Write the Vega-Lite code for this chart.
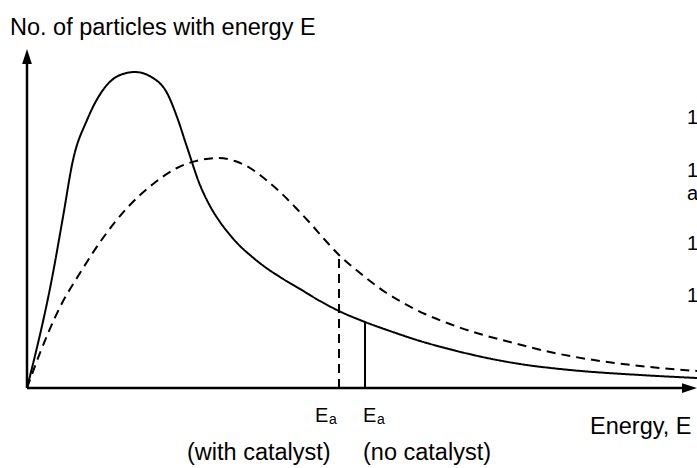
{
  "$schema": "https://vega.github.io/schema/vega-lite/v6.json",
  "width": 697,
  "height": 468,
  "autosize": "none",
  "padding": 0,
  "background": "white",
  "config": {"view": {"stroke": null}, "font": "Liberation Sans"},
  "datasets": {
    "curves": [
      {"energy": 0, "count": 0, "series": "solid"},
      {"energy": 3.88, "count": 34.02, "series": "solid"},
      {"energy": 5.37, "count": 50.59, "series": "solid"},
      {"energy": 6.87, "count": 67.46, "series": "solid"},
      {"energy": 8.96, "count": 79.29, "series": "solid"},
      {"energy": 11.34, "count": 88.17, "series": "solid"},
      {"energy": 13.88, "count": 92.6, "series": "solid"},
      {"energy": 16.12, "count": 93.49, "series": "solid"},
      {"energy": 18.81, "count": 91.72, "series": "solid"},
      {"energy": 20.9, "count": 87.28, "series": "solid"},
      {"energy": 22.39, "count": 80.18, "series": "solid"},
      {"energy": 23.88, "count": 71.3, "series": "solid"},
      {"energy": 25.82, "count": 60.06, "series": "solid"},
      {"energy": 27.31, "count": 53.85, "series": "solid"},
      {"energy": 28.81, "count": 49.11, "series": "solid"},
      {"energy": 30.3, "count": 45.27, "series": "solid"},
      {"energy": 31.79, "count": 42.01, "series": "solid"},
      {"energy": 33.28, "count": 39.35, "series": "solid"},
      {"energy": 35.52, "count": 35.8, "series": "solid"},
      {"energy": 37.76, "count": 32.84, "series": "solid"},
      {"energy": 40.75, "count": 29.29, "series": "solid"},
      {"energy": 43.73, "count": 25.74, "series": "solid"},
      {"energy": 46.57, "count": 22.78, "series": "solid"},
      {"energy": 50.45, "count": 19.53, "series": "solid"},
      {"energy": 54.18, "count": 16.86, "series": "solid"},
      {"energy": 58.66, "count": 13.91, "series": "solid"},
      {"energy": 63.58, "count": 11.24, "series": "solid"},
      {"energy": 68.66, "count": 8.88, "series": "solid"},
      {"energy": 73.58, "count": 7.1, "series": "solid"},
      {"energy": 81.04, "count": 5.33, "series": "solid"},
      {"energy": 91.49, "count": 3.85, "series": "solid"},
      {"energy": 100, "count": 2.96, "series": "solid"},
      {"energy": 0, "count": 0, "series": "dashed"},
      {"energy": 1.94, "count": 10.36, "series": "dashed"},
      {"energy": 4.93, "count": 23.96, "series": "dashed"},
      {"energy": 7.91, "count": 34.02, "series": "dashed"},
      {"energy": 11.34, "count": 44.38, "series": "dashed"},
      {"energy": 14.93, "count": 53.25, "series": "dashed"},
      {"energy": 18.81, "count": 60.36, "series": "dashed"},
      {"energy": 22.39, "count": 65.09, "series": "dashed"},
      {"energy": 25.82, "count": 67.46, "series": "dashed"},
      {"energy": 28.36, "count": 68.05, "series": "dashed"},
      {"energy": 31.04, "count": 67.16, "series": "dashed"},
      {"energy": 33.28, "count": 65.09, "series": "dashed"},
      {"energy": 35.52, "count": 61.83, "series": "dashed"},
      {"energy": 37.76, "count": 57.99, "series": "dashed"},
      {"energy": 40.0, "count": 53.55, "series": "dashed"},
      {"energy": 42.24, "count": 48.82, "series": "dashed"},
      {"energy": 44.48, "count": 43.79, "series": "dashed"},
      {"energy": 46.57, "count": 39.35, "series": "dashed"},
      {"energy": 48.96, "count": 35.21, "series": "dashed"},
      {"energy": 51.19, "count": 31.66, "series": "dashed"},
      {"energy": 53.43, "count": 28.4, "series": "dashed"},
      {"energy": 55.67, "count": 25.74, "series": "dashed"},
      {"energy": 59.4, "count": 21.89, "series": "dashed"},
      {"energy": 63.13, "count": 18.93, "series": "dashed"},
      {"energy": 67.61, "count": 15.98, "series": "dashed"},
      {"energy": 72.09, "count": 13.61, "series": "dashed"},
      {"energy": 78.06, "count": 10.65, "series": "dashed"},
      {"energy": 85.52, "count": 7.99, "series": "dashed"},
      {"energy": 92.99, "count": 6.21, "series": "dashed"},
      {"energy": 100, "count": 5.03, "series": "dashed"}
    ],
    "thresholds": [
      {"energy": 46.57, "base": 0, "count": 39.35, "series": "dashed"},
      {"energy": 50.45, "base": 0, "count": 19.53, "series": "solid"}
    ],
    "axes": [
      {"x": 0, "y": 0, "x2": 0, "y2": 97.5},
      {"x": 0, "y": 0, "x2": 98.5, "y2": 0}
    ],
    "arrows": [
      {"x": 0, "y": 98.08, "dir": "up"},
      {"x": 98.88, "y": 0, "dir": "right"}
    ],
    "labels": [
      {"x": -2.54, "y": 104.44, "text": "No. of particles with energy E"},
      {"x": 84.03, "y": -13.61, "text": "Energy, E"},
      {"x": 23.88, "y": -21.3, "text": "(with catalyst)"},
      {"x": 50.15, "y": -21.3, "text": "(no catalyst)"}
    ],
    "ea": [
      {"x": 42.99, "y": -10.06, "text": "E"},
      {"x": 50.15, "y": -10.06, "text": "E"}
    ],
    "subs": [
      {"x": 45.07, "y": -10.65, "text": "a"},
      {"x": 52.24, "y": -10.65, "text": "a"}
    ],
    "edge": [
      {"x": 98.5, "y": 78.1, "text": "1"},
      {"x": 98.5, "y": 62.4, "text": "1"},
      {"x": 98.5, "y": 55.6, "text": "a"},
      {"x": 98.5, "y": 40.8, "text": "1"},
      {"x": 98.5, "y": 25.4, "text": "1"}
    ]
  },
  "layer": [
    {
      "data": {"name": "axes"},
      "mark": {"type": "rule", "color": "black", "strokeWidth": 2.5},
      "encoding": {
        "x": {"field": "x", "type": "quantitative", "scale": {"domain": [-4.03, 100], "nice": false, "zero": false}, "axis": null},
        "y": {"field": "y", "type": "quantitative", "scale": {"domain": [-23.67, 114.8], "nice": false, "zero": false}, "axis": null},
        "x2": {"field": "x2"},
        "y2": {"field": "y2"}
      }
    },
    {
      "data": {"name": "arrows"},
      "mark": {"type": "point", "filled": true, "color": "black", "opacity": 1, "size": 225},
      "encoding": {
        "x": {"field": "x", "type": "quantitative"},
        "y": {"field": "y", "type": "quantitative"},
        "shape": {"field": "dir", "type": "nominal", "scale": {"domain": ["up", "right"], "range": ["M0,-1L0.65,1L-0.65,1Z", "M1,0L-1,-0.65L-1,0.65Z"]}, "legend": null}
      }
    },
    {
      "data": {"name": "curves"},
      "mark": {"type": "line", "color": "black", "strokeWidth": 2, "interpolate": "monotone"},
      "encoding": {
        "x": {"field": "energy", "type": "quantitative"},
        "y": {"field": "count", "type": "quantitative"},
        "detail": {"field": "series", "type": "nominal"},
        "strokeDash": {"field": "series", "type": "nominal", "scale": {"domain": ["solid", "dashed"], "range": [[1, 0], [9, 6]]}, "legend": null}
      }
    },
    {
      "data": {"name": "thresholds"},
      "mark": {"type": "rule", "color": "black", "strokeWidth": 2},
      "encoding": {
        "x": {"field": "energy", "type": "quantitative"},
        "y": {"field": "base", "type": "quantitative"},
        "y2": {"field": "count"},
        "strokeDash": {"field": "series", "type": "nominal", "legend": null}
      }
    },
    {
      "data": {"name": "labels"},
      "mark": {"type": "text", "align": "left", "baseline": "alphabetic", "fontSize": 23.5, "color": "black"},
      "encoding": {
        "x": {"field": "x", "type": "quantitative"},
        "y": {"field": "y", "type": "quantitative"},
        "text": {"field": "text", "type": "nominal"}
      }
    },
    {
      "data": {"name": "ea"},
      "mark": {"type": "text", "align": "left", "baseline": "alphabetic", "fontSize": 20, "color": "black"},
      "encoding": {
        "x": {"field": "x", "type": "quantitative"},
        "y": {"field": "y", "type": "quantitative"},
        "text": {"field": "text", "type": "nominal"}
      }
    },
    {
      "data": {"name": "subs"},
      "mark": {"type": "text", "align": "left", "baseline": "alphabetic", "fontSize": 14, "color": "black"},
      "encoding": {
        "x": {"field": "x", "type": "quantitative"},
        "y": {"field": "y", "type": "quantitative"},
        "text": {"field": "text", "type": "nominal"}
      }
    },
    {
      "data": {"name": "edge"},
      "mark": {"type": "text", "align": "left", "baseline": "alphabetic", "fontSize": 20, "color": "black"},
      "encoding": {
        "x": {"field": "x", "type": "quantitative"},
        "y": {"field": "y", "type": "quantitative"},
        "text": {"field": "text", "type": "nominal"}
      }
    }
  ]
}
